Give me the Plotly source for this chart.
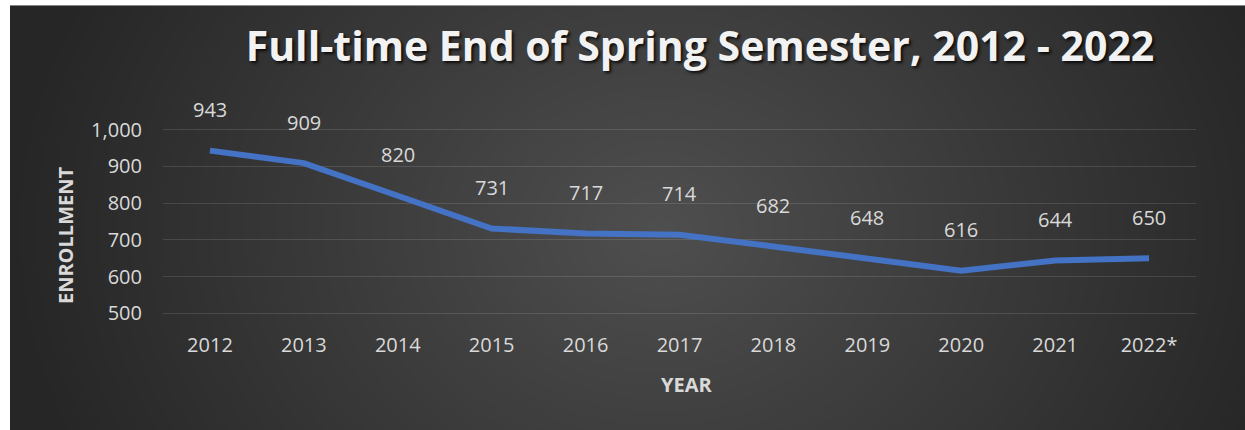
import plotly.graph_objects as go

years = ["2012", "2013", "2014", "2015", "2016", "2017", "2018", "2019", "2020", "2021", "2022*"]
enrollment = [943, 909, 820, 731, 717, 714, 682, 648, 616, 644, 650]
y_ticks = [500, 600, 700, 800, 900, 1000]
y_tick_labels = ["500", "600", "700", "800", "900", "1,000"]

W, H = 1245, 430
# pixel rows of the 1000 and 500 gridlines, and plot left/right
L, R, Y1000, Y500 = 163, 1196, 130, 313
PAD = 10  # axis units of padding so edge gridlines are drawn
ppu = (Y500 - Y1000) / 500.0
T = Y1000 - PAD * ppu
B = Y500 + PAD * ppu


def px_x(p):
    return (p - L) / (R - L)


def px_y(p):
    return (B - p) / (B - T)


TXT = "#d9d9d9"
FONT = "Open Sans"

fig = go.Figure()
fig.add_trace(go.Scatter(
    x=years, y=enrollment, mode="lines",
    line=dict(color="#4472C4", width=6),
    hoverinfo="x+y", showlegend=False,
))

shapes = []
# dark background rectangle
shapes.append(dict(type="rect", xref="paper", yref="paper",
                   x0=px_x(10), x1=px_x(W + 5), y0=px_y(H + 5), y1=px_y(6),
                   fillcolor="#262626", line=dict(width=0), layer="below"))
# radial gradient approximation
cx, cy = 660, 230
n = 40
rx_max, ry_max = 640, 520
for i in range(n):
    f = 1 - i / n
    rx, ry = rx_max * f, ry_max * f
    shapes.append(dict(type="circle", xref="paper", yref="paper",
                       x0=px_x(cx - rx), x1=px_x(cx + rx),
                       y0=px_y(cy + ry), y1=px_y(cy - ry),
                       fillcolor="rgba(255,255,255,0.0076)", line=dict(width=0),
                       layer="below"))
# white margin cover (top and left)
shapes.append(dict(type="rect", xref="paper", yref="paper",
                   x0=px_x(-5), x1=px_x(10), y0=px_y(H + 5), y1=px_y(-5),
                   fillcolor="white", line=dict(width=0), layer="below"))
shapes.append(dict(type="rect", xref="paper", yref="paper",
                   x0=px_x(-5), x1=px_x(W + 5), y0=px_y(6), y1=px_y(-5),
                   fillcolor="white", line=dict(width=0), layer="below"))

annotations = []
for i, v in enumerate(enrollment):
    annotations.append(dict(x=i, y=v, xref="x", yref="y", text=str(v),
                            showarrow=False, yshift=41,
                            xanchor="center", yanchor="middle",
                            font=dict(family=FONT, size=20, color=TXT)))
annotations.append(dict(x=px_x(686), y=px_y(384), xref="paper", yref="paper",
                        text="<b>YEAR</b>", showarrow=False,
                        xanchor="center", yanchor="middle",
                        font=dict(family=FONT, size=20, color=TXT)))
annotations.append(dict(x=px_x(65), y=px_y(236), xref="paper", yref="paper",
                        text="<b>ENROLLMENT</b>", showarrow=False, textangle=-90,
                        xanchor="center", yanchor="middle",
                        font=dict(family=FONT, size=20, color=TXT)))

fig.update_layout(
    width=W, height=H,
    margin=dict(l=L, r=W - R, t=T, b=H - B),
    paper_bgcolor="white",
    plot_bgcolor="rgba(0,0,0,0)",
    title=dict(text="<b>Full-time End of Spring Semester, 2012 - 2022</b>",
               xref="container", yref="container",
               x=700 / W, y=1 - 47 / H, xanchor="center", yanchor="middle",
               font=dict(family=FONT, size=41, color="#f2f2f2",
                         shadow="2px 2px 3px rgba(0,0,0,0.8)")),
    shapes=shapes,
    annotations=annotations,
    showlegend=False,
)
fig.update_xaxes(
    type="category", range=[-0.5, 10.5], showgrid=False, zeroline=False,
    showline=False, ticks="", ticklabelstandoff=int(round(18 - PAD * ppu)),
    tickfont=dict(family=FONT, size=20, color=TXT),
)
fig.update_yaxes(
    range=[500 - PAD, 1000 + PAD], tickvals=y_ticks, ticktext=y_tick_labels,
    showgrid=True, gridcolor="rgba(255,255,255,0.12)", gridwidth=1,
    zeroline=False, showline=False, ticks="", ticklabelstandoff=20,
    tickfont=dict(family=FONT, size=20, color=TXT),
)

fig.write_html(
    "out.html",
    config={"displayModeBar": False},
    post_script="document.body.style.margin='0';document.body.style.overflow='hidden';",
)
